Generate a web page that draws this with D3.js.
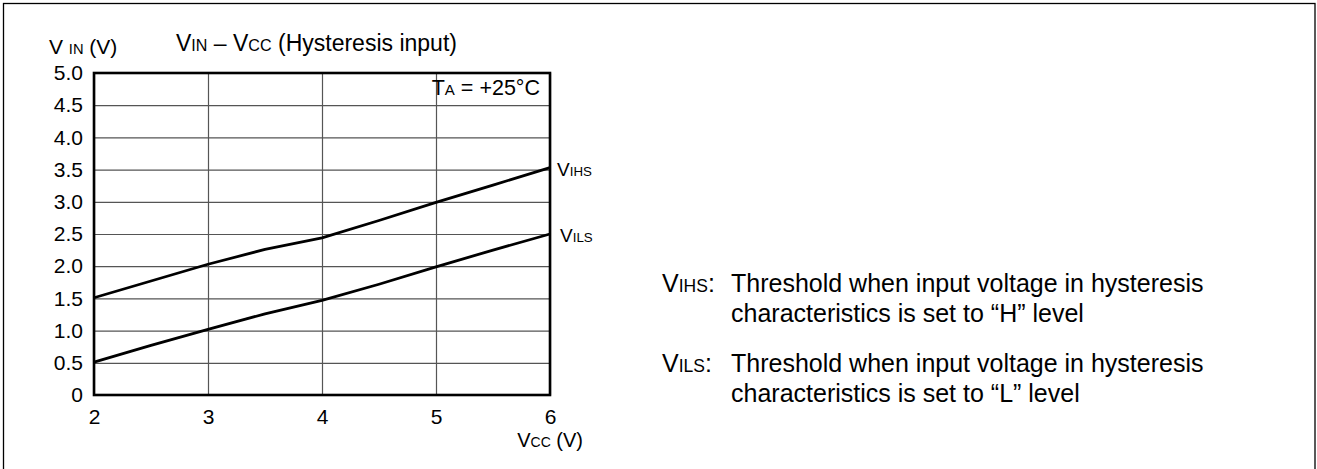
<!DOCTYPE html>
<html>
<head>
<meta charset="utf-8">
<script src="https://cdn.jsdelivr.net/npm/d3@7"></script>
<style>
  html, body { margin: 0; padding: 0; background: #fff; }
  svg { display: block; font-family: "Liberation Sans", Arial, Helvetica, sans-serif; }
</style>
</head>
<body>
<svg id="chart" width="1317" height="469"></svg>
<script>
// ---- data ----
const vcc = [2, 2.5, 3, 3.5, 4, 4.5, 5, 5.5, 6];
const vihs = [1.51, 1.77, 2.03, 2.26, 2.44, 2.71, 2.99, 3.26, 3.53];
const vils = [0.51, 0.77, 1.02, 1.26, 1.47, 1.72, 1.99, 2.25, 2.50];
const xTicks = [2, 3, 4, 5, 6];
const xTickLabels = ["2", "3", "4", "5", "6"];
const yTicks = [0, 0.5, 1, 1.5, 2, 2.5, 3, 3.5, 4, 4.5, 5];
const yTickLabels = ["0", "0.5", "1.0", "1.5", "2.0", "2.5", "3.0", "3.5", "4.0", "4.5", "5.0"];

const svg = d3.select("#chart");
const pL = 94, pR = 550, pT = 73, pB = 395;
const x = d3.scaleLinear().domain([2, 6]).range([pL, pR]);
const y = d3.scaleLinear().domain([0, 5]).range([pB, pT]);
const FS = 21;

// outer frame
svg.append("rect").attr("x", 3.5).attr("y", 3.5).attr("width", 1311.5).attr("height", 480)
  .attr("fill", "none").attr("stroke", "#000").attr("stroke-width", 1.3);

// x axis with vertical grid
const gx = svg.append("g").attr("transform", `translate(0,${pB})`)
  .call(d3.axisBottom(x).tickValues(xTicks).tickSize(-(pB - pT)).tickPadding(14)
    .tickFormat((d, i) => xTickLabels[i]));
gx.select(".domain").remove();
gx.selectAll("line").attr("stroke", "#555").attr("stroke-width", 1.2);
gx.selectAll("text").attr("font-size", FS).attr("fill", "#000");
gx.attr("font-family", null).attr("font-size", null);

// y axis with horizontal grid
const gy = svg.append("g").attr("transform", `translate(${pL},0)`)
  .call(d3.axisLeft(y).tickValues(yTicks).tickSize(-(pR - pL)).tickPadding(11)
    .tickFormat((d, i) => yTickLabels[i]));
gy.select(".domain").remove();
gy.selectAll("line").attr("stroke", "#555").attr("stroke-width", 1.2);
gy.selectAll("text").attr("font-size", FS).attr("fill", "#000");
gy.attr("font-family", null).attr("font-size", null);

// plot frame
svg.append("rect").attr("x", pL).attr("y", pT).attr("width", pR - pL).attr("height", pB - pT)
  .attr("fill", "none").attr("stroke", "#000").attr("stroke-width", 2.6);

// curves
const line = d3.line().x(d => x(d[0])).y(d => y(d[1]));
[vihs, vils].forEach(s => {
  svg.append("path").datum(vcc.map((v, i) => [v, s[i]]))
    .attr("d", line).attr("fill", "none").attr("stroke", "#000")
    .attr("stroke-width", 2.8).attr("stroke-linejoin", "round");
});

// helper for V + small subscript-like text
function vtext(g, xx, yy, fs, main, sub, rest, anchor) {
  const t = g.append("text").attr("x", xx).attr("y", yy).attr("font-size", fs)
    .attr("text-anchor", anchor || "start");
  t.append("tspan").text(main);
  t.append("tspan").attr("font-size", fs * 0.7).text(sub);
  if (rest) t.append("tspan").text(rest);
  return t;
}

// axis labels and title
vtext(svg, 49, 54, FS, "V ", "IN", " (V)");
const TF = 23;
const title = svg.append("text").attr("x", 176).attr("y", 51).attr("font-size", TF);
title.append("tspan").text("V");
title.append("tspan").attr("font-size", TF * 0.7).text("IN");
title.append("tspan").text(" – V");
title.append("tspan").attr("font-size", TF * 0.7).text("CC");
title.append("tspan").text(" (Hysteresis input)");

vtext(svg, 583, 447, 20, "V", "CC", " (V)", "end");
vtext(svg, 540, 95, 21.5, "T", "A", " = +25°C", "end");

// series labels
vtext(svg, 557, y(vihs[vihs.length - 1]) + 8, 19, "V", "IHS", "");
vtext(svg, 560, y(vils[vils.length - 1]) + 8, 19, "V", "ILS", "");

// notes on the right
const RF = 25;
vtext(svg, 662, 292, RF, "V", "IHS", ":");
svg.append("text").attr("x", 731).attr("y", 292).attr("font-size", RF).text("Threshold when input voltage in hysteresis");
svg.append("text").attr("x", 731).attr("y", 322).attr("font-size", RF).text("characteristics is set to “H” level");
vtext(svg, 662, 372, RF, "V", "ILS", ":");
svg.append("text").attr("x", 731).attr("y", 372).attr("font-size", RF).text("Threshold when input voltage in hysteresis");
svg.append("text").attr("x", 731).attr("y", 402).attr("font-size", RF).text("characteristics is set to “L” level");
</script>
</body>
</html>
